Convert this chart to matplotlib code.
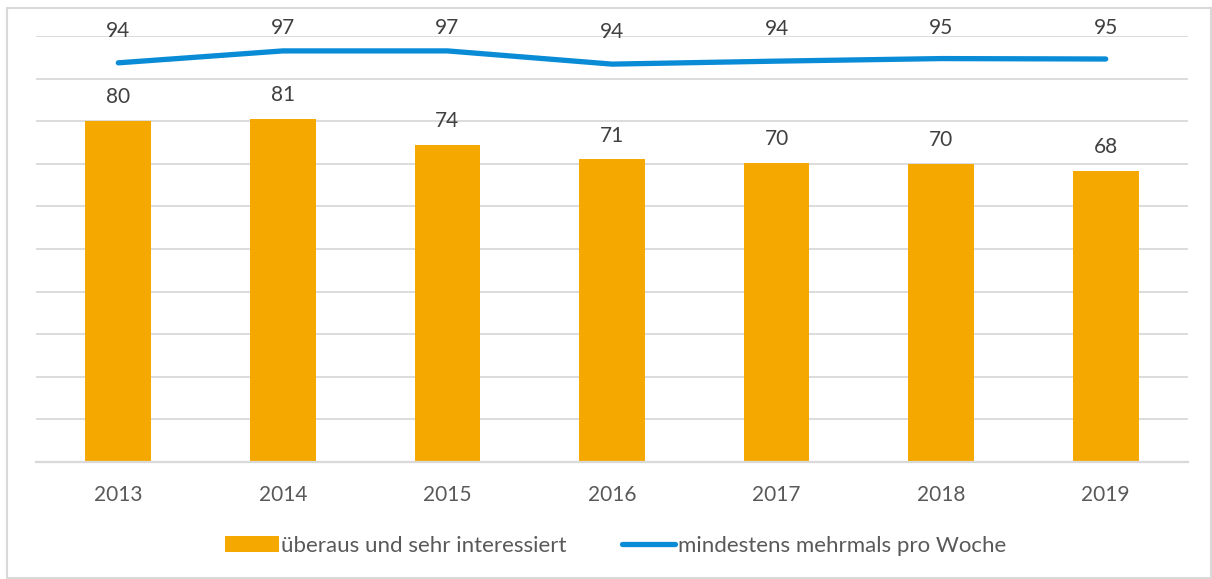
import matplotlib
matplotlib.use("Agg")
import matplotlib.pyplot as plt
from matplotlib.patches import Rectangle

years = ["2013", "2014", "2015", "2016", "2017", "2018", "2019"]
bar_values = [80.1, 80.6, 74.4, 71.1, 70.2, 70.0, 68.3]
bar_labels = ["80", "81", "74", "71", "70", "70", "68"]
line_values = [93.7, 96.5, 96.5, 93.4, 94.1, 94.7, 94.6]
line_labels = ["94", "97", "97", "94", "94", "95", "95"]
bar_name = "überaus und sehr interessiert"
line_name = "mindestens mehrmals pro Woche"

ORANGE = "#F5A800"
BLUE = "#0A8BD6"
GRID = "#D9D9D9"
TXT = "#404040"
TICK = "#595959"
FONT = "Lato"

plt.rcParams['font.family'] = [FONT, 'DejaVu Sans']

fig = plt.figure(figsize=(12.12, 5.79), dpi=100)
ax = fig.add_axes([36/1212, 1-462/579, (1188-36)/1212, (462-36)/579])

x = list(range(len(years)))
bars = ax.bar(x, bar_values, width=0.4, color=ORANGE, zorder=2, label=bar_name)
line, = ax.plot(x, line_values, color=BLUE, lw=3.8, solid_capstyle='round', zorder=3, label=line_name)

ax.set_xlim(-0.5, len(years)-0.5)
ax.set_ylim(0, 100)
ax.set_yticks(range(0, 101, 10))
ax.yaxis.grid(True, color=GRID, lw=1.3, zorder=0)
ax.tick_params(axis='y', left=False, labelleft=False)
ax.tick_params(axis='x', bottom=False, labelsize=15, labelcolor=TICK, pad=13)
ax.set_xticks(x)
ax.set_xticklabels(years)
for s in ['top', 'right', 'left']:
    ax.spines[s].set_visible(False)
ax.spines['bottom'].set_color(GRID)
ax.spines['bottom'].set_linewidth(1.6)

for xi, v, lab in zip(x, bar_values, bar_labels):
    ax.annotate(lab, (xi, v), xytext=(0, 17), textcoords='offset points',
                ha='center', va='center', fontsize=15, color=TXT)
for xi, v, lab in zip(x, line_values, line_labels):
    ax.text(xi, min(v + 7.5, 101.9), lab, ha='center', va='center',
            fontsize=15, color=TXT, clip_on=False)

leg = fig.legend([bars, line], [bar_name, line_name],
                 loc='center', bbox_to_anchor=(0.508, 1-546/579), ncol=2, frameon=False,
                 fontsize=16, handlelength=2.4, handletextpad=0.1, columnspacing=2.5,
                 labelcolor=TICK)

fig.patches.append(Rectangle((7/1212, 1/579), (1211-7)/1212, (570)/579,
                             transform=fig.transFigure, fill=False,
                             edgecolor=GRID, lw=1.5))

fig.savefig("out.png", dpi=100)
